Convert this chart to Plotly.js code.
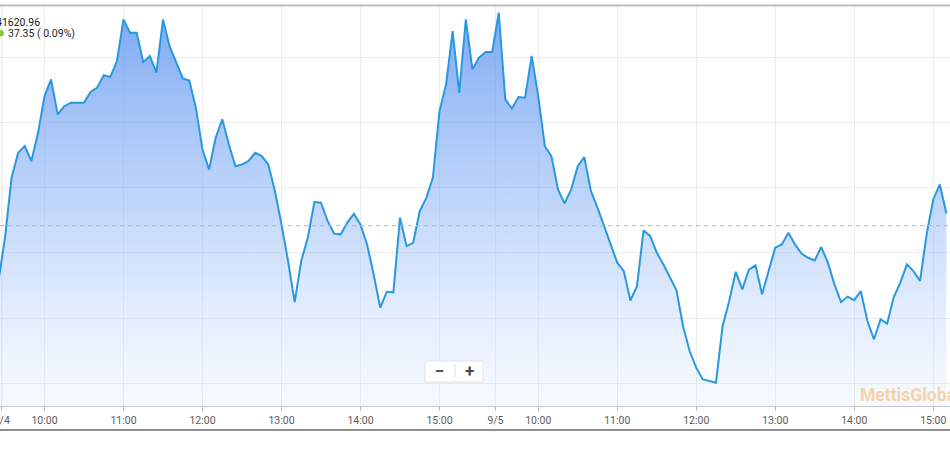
<!DOCTYPE html>
<html>
<head>
<meta charset="utf-8">
<script src="https://cdn.plot.ly/plotly-3.0.1.min.js"></script>
<style>
html,body{margin:0;padding:0;background:#fff;}
#chart{width:950px;height:450px;}
</style>
</head>
<body>
<div id="chart"></div>
<script>
// 5-minute closing values, KSE-100 style index, 9/4 09:25 (first, off-screen) .. 9/5 ~15:10
const prices = [
  41413,
  41547, 41731, 41807, 41828, 41782, 41866, 41981, 42032, 41925, 41950,
  41961, 41961, 41961, 41994, 42007, 42045, 42040, 42088, 42216, 42175,
  42175, 42086, 42104, 42053, 42216, 42134, 42086, 42035, 42029, 41945,
  41817, 41756, 41853, 41910, 41833, 41766, 41771, 41782, 41807, 41797,
  41771, 41690, 41587, 41475, 41349, 41475, 41547, 41656, 41654, 41598,
  41559, 41557, 41593, 41620, 41587, 41526, 41434, 41332, 41381, 41379,
  41608, 41521, 41531, 41628, 41669, 41731, 41935, 42017, 42180, 41991,
  42216, 42063, 42099, 42116, 42116, 42237, 41971, 41943, 41978, 41976,
  42104, 41981, 41828, 41797, 41695, 41652, 41695, 41766, 41794, 41690,
  41639, 41582, 41526, 41470, 41444, 41354, 41398, 41569, 41552, 41501,
  41465, 41424, 41385, 41275, 41199, 41148, 41112, 41107, 41102, 41275,
  41352, 41442, 41388, 41449, 41462, 41373, 41449, 41516, 41526, 41562,
  41526, 41498, 41485, 41477, 41518, 41470, 41403, 41349, 41366, 41355,
  41383, 41291, 41235, 41296, 41283, 41364, 41409, 41465, 41444, 41414,
  41557, 41664, 41710, 41620.96
];
const prevClose = 41583.61;
const lastValue = "41620.96";
const changeText = "37.35 ( 0.09%)";

// tick positions in bar-index units (bar 0 = 9/4 09:30)
const tickPos = [-0.5, 6, 18, 30, 42, 54, 66, 74.5, 81, 93, 105, 117, 129, 141];
const tickLabels = ["9/4", "10:00", "11:00", "12:00", "13:00", "14:00", "15:00",
                    "9/5", "10:00", "11:00", "12:00", "13:00", "14:00", "15:00"];
const dayTicks = [-0.5, 74.5];
const gridVals = [41100, 41300, 41500, 41700, 41900, 42100];

const barIndex = prices.map((_, k) => k - 1);

const yMin = 41030.4, yMax = 42257.4;

const trace = {
  x: barIndex,
  y: prices,
  type: 'scatter',
  mode: 'lines',
  line: {color: '#2a98df', width: 2},
  fill: 'tozeroy',
  fillgradient: {
    type: 'vertical',
    start: yMin,
    stop: yMax,
    colorscale: [[0, 'rgba(210,226,255,0.2)'], [0.5, 'rgba(130,175,245,0.5)'], [1, 'rgba(90,145,240,0.8)']]
  },
  hoverinfo: 'skip'
};

const PH = 400; // plot height in px (top 6, bottom 406)
function py(px) { return (406 - px) / PH; }
function pxX(px) { return px / 950; }

const shapes = [];
// previous close dashed line
shapes.push({type: 'line', xref: 'paper', x0: 0, x1: 1, yref: 'y', y0: prevClose, y1: prevClose,
  line: {color: '#b8b8b0', width: 1, dash: '4px,4px'}, layer: 'above'});
// day separators
dayTicks.forEach(d => shapes.push({type: 'line', xref: 'x', x0: d, x1: d, yref: 'paper', y0: 0, y1: 1,
  line: {color: '#d8d8d8', width: 1}, layer: 'below'}));
// frame lines
shapes.push({type: 'line', xref: 'paper', x0: 0, x1: 1, yref: 'paper', y0: py(5.5), y1: py(5.5),
  line: {color: '#bdbdbd', width: 2}});
shapes.push({type: 'line', xref: 'paper', x0: 0, x1: 1, yref: 'paper', y0: py(430), y1: py(430),
  line: {color: '#6a6a6a', width: 1.5}});
// zoom control box
shapes.push({type: 'rect', xref: 'paper', yref: 'paper', x0: pxX(425), x1: pxX(483), y0: py(382), y1: py(361),
  fillcolor: 'rgba(255,255,255,0.95)', line: {color: '#e3e3e3', width: 1}, layer: 'above'});
shapes.push({type: 'line', xref: 'paper', yref: 'paper', x0: pxX(455), x1: pxX(455), y0: py(377), y1: py(364),
  line: {color: '#dddddd', width: 1}, layer: 'above'});
// green status dot
shapes.push({type: 'circle', xref: 'paper', yref: 'paper', x0: pxX(-2.5), x1: pxX(4), y0: py(36.6), y1: py(30.1),
  fillcolor: '#8cc63f', line: {width: 0}});

const annotations = [
  {xref: 'paper', yref: 'paper', x: 0, y: py(22), xanchor: 'left', yanchor: 'middle', xshift: -6,
   text: lastValue, showarrow: false, font: {family: 'Roboto, Arial, sans-serif', size: 10.5, color: '#1a1a1a'}},
  {xref: 'paper', yref: 'paper', x: pxX(6), y: py(33.3), xanchor: 'left', yanchor: 'middle',
   text: changeText, showarrow: false, font: {family: 'Roboto, Arial, sans-serif', size: 10.5, color: '#262626'}},
  {xref: 'paper', yref: 'paper', x: pxX(439.5), y: py(371), xanchor: 'center', yanchor: 'middle',
   text: '<b>−</b>', showarrow: false, font: {family: 'Roboto, Arial, sans-serif', size: 17, color: '#4a4a4a'}},
  {xref: 'paper', yref: 'paper', x: pxX(469.5), y: py(371), xanchor: 'center', yanchor: 'middle',
   text: '<b>+</b>', showarrow: false, font: {family: 'Roboto, Arial, sans-serif', size: 17, color: '#4a4a4a'}},
  {xref: 'paper', yref: 'paper', x: pxX(858), y: py(395), xanchor: 'left', yanchor: 'middle',
   text: '<b>MettisGlobal</b>', showarrow: false, font: {family: 'Roboto, Arial, sans-serif', size: 17.5, color: '#f5d3a8'}}
];

const layout = {
  width: 950, height: 450,
  margin: {l: 0, r: 0, t: 6, b: 44, pad: 0},
  paper_bgcolor: '#ffffff', plot_bgcolor: '#ffffff',
  showlegend: false,
  xaxis: {
    type: 'linear', range: [-0.76, 143.55],
    tickmode: 'array', tickvals: tickPos, ticktext: tickLabels,
    showgrid: true, gridcolor: '#ededed', gridwidth: 1,
    zeroline: false, showline: true, linecolor: '#c6c6c6', linewidth: 1,
    ticks: 'outside', ticklen: 4, tickcolor: '#bdbdbd', tickwidth: 1,
    tickfont: {family: 'Roboto, Arial, sans-serif', size: 10.5, color: '#5a5a5a'},
    ticklabeloverflow: 'allow', fixedrange: true
  },
  yaxis: {
    type: 'linear', range: [yMin, yMax],
    tickmode: 'array', tickvals: gridVals,
    showticklabels: false, showgrid: true, gridcolor: '#ececec', gridwidth: 1,
    zeroline: false, showline: false, ticks: '', fixedrange: true
  },
  shapes: shapes,
  annotations: annotations
};

Plotly.newPlot('chart', [trace], layout, {displayModeBar: false, staticPlot: true});
</script>
</body>
</html>
